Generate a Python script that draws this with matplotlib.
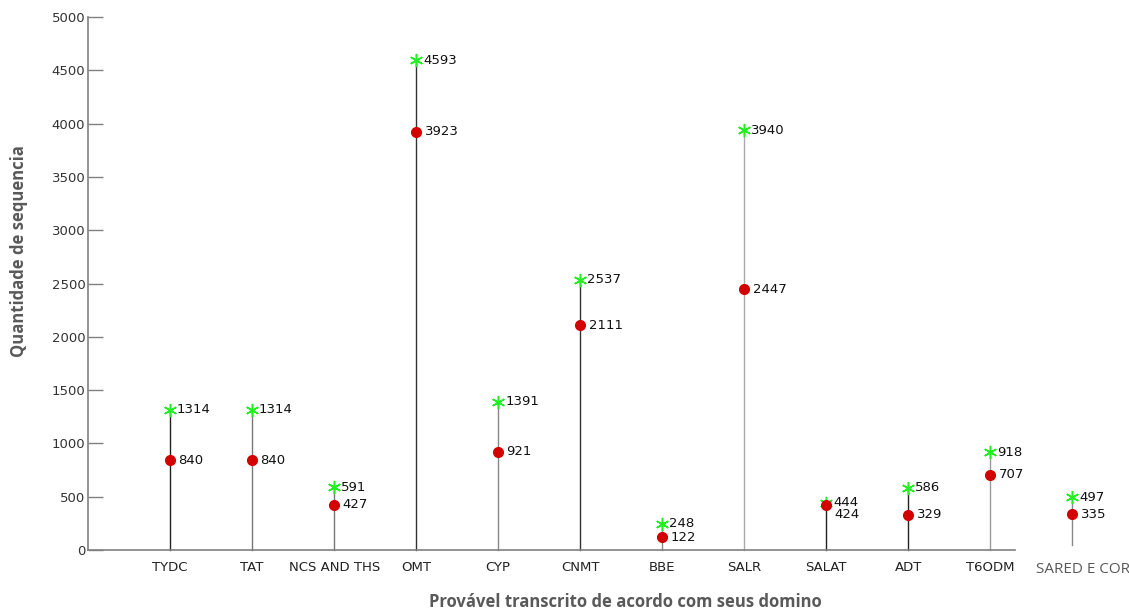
import matplotlib
matplotlib.use("Agg")
import matplotlib.pyplot as plt

# data
categories = ["TYDC", "TAT", "NCS AND THS", "OMT", "CYP", "CNMT", "BBE",
              "SALR", "SALAT", "ADT", "T6ODM", "SARED E COR"]
star_vals = [1314, 1314, 591, 4593, 1391, 2537, 248, 3940, 444, 586, 918, 497]
dot_vals = [840, 840, 427, 3923, 921, 2111, 122, 2447, 424, 329, 707, 335]
stem_base = [0, 0, 0, 0, 0, 0, 0, 0, 0, 0, 0, 45]

star_c = "#22EE22"
dot_c = "#D40000"
axis_c = "#808080"
label_c = "#595959"
stem_colors = ["#222222", "#777777", "#777777", "#333333", "#888888", "#333333",
               "#888888", "#aaaaaa", "#222222", "#222222", "#999999", "#888888"]

fig = plt.figure(figsize=(11.29, 6.11), dpi=100)
ax = fig.add_axes([0.078, 0.0998, 0.821, 0.8723])

n_in = 11  # categories inside the drawn axis
for i in range(len(categories)):
    x = i + 1
    ax.plot([x, x], [stem_base[i], star_vals[i]], color=stem_colors[i], lw=1.0,
            zorder=1, clip_on=False)
    ax.plot(x, star_vals[i], marker=(6, 2, 0), ms=9.5, mew=1.1, color=star_c,
            ls="none", zorder=3, clip_on=False)
    ax.plot(x, dot_vals[i], marker="o", ms=7, color=dot_c, ls="none",
            zorder=3, clip_on=False)
    ax.annotate(str(star_vals[i]), (x, star_vals[i]), xytext=(5, 0),
                textcoords="offset points", va="center", ha="left",
                fontsize=9.5, color="#111111", annotation_clip=False)
    dy = -7 if categories[i] == "SALAT" else 0
    ax.annotate(str(dot_vals[i]), (x, dot_vals[i]), xytext=(6, dy),
                textcoords="offset points", va="center", ha="left",
                fontsize=9.5, color="#111111", annotation_clip=False)

ax.set_xlim(0, 11.3)
ax.set_ylim(0, 5000)
ax.set_yticks(range(0, 5001, 500))
ax.set_xticks(range(1, n_in + 1))
ax.set_xticklabels(categories[:n_in], fontsize=9.5, color="#222222")
ax.tick_params(axis="x", length=0, pad=8)
ax.tick_params(axis="y", direction="in", length=11, width=1, color=axis_c,
               labelsize=9.5, labelcolor="#333333", pad=2)
for side in ("top", "right"):
    ax.spines[side].set_visible(False)
for side in ("left", "bottom"):
    ax.spines[side].set_color(axis_c)
    ax.spines[side].set_linewidth(1.2)

# last category sits outside the axis, pasted label in another font
ax.text(11.56, -110, categories[-1], ha="left", va="top", fontsize=11,
        color=label_c, family="Open Sans", clip_on=False)

ax.set_ylabel("Quantidade de sequencia", fontsize=12, fontweight="bold",
              color=label_c, family="Open Sans")
ax.yaxis.set_label_coords(-0.0645, 0.561)
fig.text(0.554, 0.0, "Provável transcrito de acordo com seus domino",
         ha="center", va="bottom", fontsize=12, fontweight="bold",
         color=label_c, family="Open Sans")

fig.savefig("out.png", dpi=100)
